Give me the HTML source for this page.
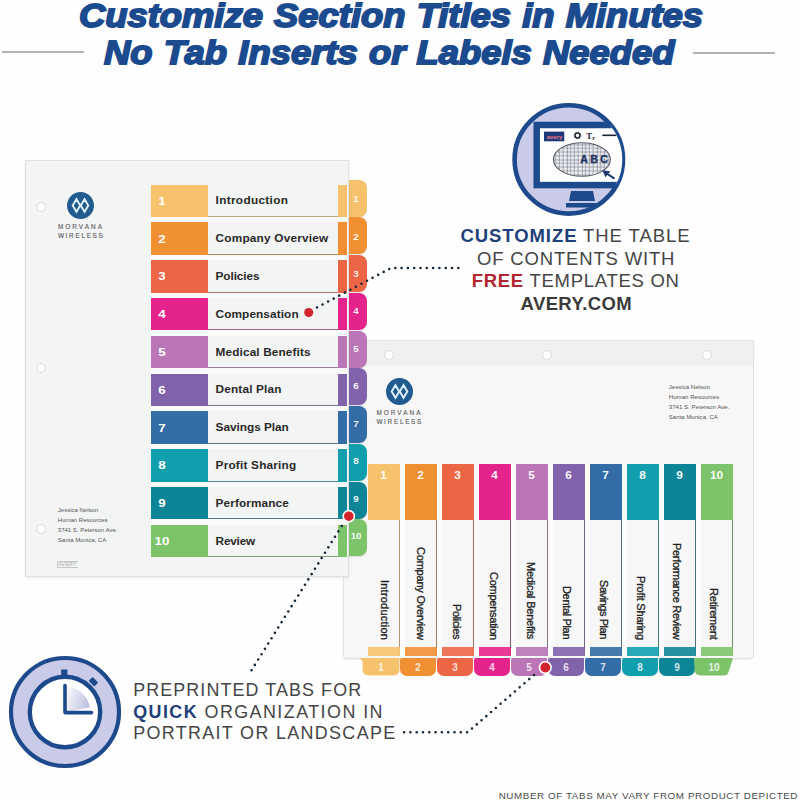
<!DOCTYPE html>
<html><head><meta charset="utf-8"><style>
*{margin:0;padding:0;box-sizing:border-box}
html,body{width:800px;height:800px;overflow:hidden;background:#fefefe}
body{position:relative;font-family:"Liberation Sans", sans-serif}
.a{position:absolute}
.t{position:absolute;white-space:nowrap;line-height:1}
</style></head><body>

<div class="a" style="left:2px;top:51px;width:82px;height:2px;background:#b3b3b3"></div>
<div class="a" style="left:693px;top:51.5px;width:82px;height:2px;background:#b3b3b3"></div>
<div class="t" id="t1" style="left:79px;top:-1px;font-size:33px;font-weight:bold;font-style:italic;color:#1c4a8e;-webkit-text-stroke:1.8px #1c4a8e;transform-origin:0 0;transform:scaleX(1.102);word-spacing:1px">Customize Section Titles in Minutes</div>
<div class="t" id="t2" style="left:104px;top:35.7px;font-size:33px;font-weight:bold;font-style:italic;color:#1c4a8e;-webkit-text-stroke:1.8px #1c4a8e;transform-origin:0 0;transform:scaleX(1.103);word-spacing:1px">No Tab Inserts or Labels Needed</div>
<div class="a" style="left:343px;top:339.5px;width:411px;height:319.5px;background:#f7f7f7;border:1px solid #e2e2e2;border-radius:0 0 5px 3px;box-shadow:0 1px 2px rgba(0,0,0,.06)"></div>
<div class="a" style="left:344px;top:340.5px;width:409px;height:24.5px;background:#f0f0f0"></div>
<div class="a" style="left:383.6px;top:349.7px;width:10px;height:10px;border-radius:50%;background:#fff;border:1px solid #d6d6d6"></div>
<div class="a" style="left:542px;top:349.7px;width:10px;height:10px;border-radius:50%;background:#fff;border:1px solid #d6d6d6"></div>
<div class="a" style="left:701.6px;top:349.7px;width:10px;height:10px;border-radius:50%;background:#fff;border:1px solid #d6d6d6"></div>
<svg class="a" style="left:385.5px;top:378.0px" width="27.0" height="27.0" viewBox="-10 -10 20 20"><circle r="10" fill="#215b8f"/><path d="M-5.8 0 L-3 -4.7 L-0.2 0 L-3 4.7 Z M0.2 0 L3 -4.7 L5.8 0 L3 4.7 Z" fill="none" stroke="#dff0fb" stroke-width="1.4" stroke-linejoin="miter" stroke-miterlimit="10"/></svg>
<div class="t" style="left:376.4px;top:410.05px;font-size:6.4px;letter-spacing:2.05px;color:#626262;-webkit-text-stroke:0.15px #626262">MORVANA</div>
<div class="t" style="left:376.4px;top:418.67px;font-size:6.4px;letter-spacing:1.7px;color:#626262;-webkit-text-stroke:0.15px #626262">WIRELESS</div>
<div class="t" style="left:668.8px;top:383.6px;font-size:6.1px;color:#555">Jessica Nelson</div>
<div class="t" style="left:668.8px;top:393.67px;font-size:6.1px;color:#555">Human Resources</div>
<div class="t" style="left:668.8px;top:403.74px;font-size:6.1px;color:#555">3741 S. Peterson Ave.</div>
<div class="t" style="left:668.8px;top:413.81px;font-size:6.1px;color:#555">Santa Monica, CA</div>
<div class="a" style="left:366.5px;top:464px;width:367px;height:192px;background:#f7f7f7"></div>
<div class="a" style="left:398.8px;top:464px;width:1.3px;height:190px;background:#ad9673"></div>
<div class="a" style="left:367.5px;top:464px;width:32px;height:56px;background:#f7c26c"></div>
<div class="t" style="left:367.5px;top:470px;width:32px;text-align:center;font-size:11.8px;font-weight:bold;color:#fff;opacity:.95">1</div>
<div class="a" style="left:367.5px;top:647px;width:32px;height:9px;background:#f7c26c;opacity:.9"></div>
<svg class="a" style="left:0;top:0" width="800" height="800"><path d="M359.5 658 L399.5 658 L399.5 669 Q399.5 675.5 393 675.5 L369 675.5 Q362.5 675.5 362.5 669 L362.5 663 Q362.5 659.5 359.5 658 Z" fill="#f7c26c"/></svg>
<div class="t" style="left:363.0px;top:662.6999999999999px;width:36px;text-align:center;font-size:10px;font-weight:bold;color:#fff;opacity:.8">1</div>
<div class="t" style="left:378.5px;top:579.8px;writing-mode:vertical-rl;font-size:11px;letter-spacing:0.221px;color:#222;-webkit-text-stroke:0.3px #222">Introduction</div>
<div class="a" style="left:400.0px;top:464px;width:4.5px;height:192px;background:#fcfcfc"></div>
<div class="a" style="left:435.8px;top:464px;width:1.3px;height:190px;background:#a37c57"></div>
<div class="a" style="left:404.5px;top:464px;width:32px;height:56px;background:#f18f33"></div>
<div class="t" style="left:404.5px;top:470px;width:32px;text-align:center;font-size:11.8px;font-weight:bold;color:#fff;opacity:.95">2</div>
<div class="a" style="left:404.5px;top:647px;width:32px;height:9px;background:#f18f33;opacity:.9"></div>
<div class="a" style="left:400.0px;top:658px;width:36px;height:17.5px;background:#f18f33;border-radius:2px 1px 7px 7px"></div>
<div class="t" style="left:400.0px;top:662.6999999999999px;width:36px;text-align:center;font-size:10px;font-weight:bold;color:#fff;opacity:.8">2</div>
<div class="t" style="left:414.9px;top:546.7px;writing-mode:vertical-rl;font-size:11px;letter-spacing:-0.209px;color:#222;-webkit-text-stroke:0.3px #222">Company Overview</div>
<div class="a" style="left:437.0px;top:464px;width:4.5px;height:192px;background:#fcfcfc"></div>
<div class="a" style="left:472.8px;top:464px;width:1.3px;height:190px;background:#9f6d5e"></div>
<div class="a" style="left:441.5px;top:464px;width:32px;height:56px;background:#ec6645"></div>
<div class="t" style="left:441.5px;top:470px;width:32px;text-align:center;font-size:11.8px;font-weight:bold;color:#fff;opacity:.95">3</div>
<div class="a" style="left:441.5px;top:647px;width:32px;height:9px;background:#ec6645;opacity:.9"></div>
<div class="a" style="left:437.0px;top:658px;width:36px;height:17.5px;background:#ec6645;border-radius:2px 1px 7px 7px"></div>
<div class="t" style="left:437.0px;top:662.6999999999999px;width:36px;text-align:center;font-size:10px;font-weight:bold;color:#fff;opacity:.8">3</div>
<div class="t" style="left:450.9px;top:603.7px;writing-mode:vertical-rl;font-size:11px;letter-spacing:-0.358px;color:#222;-webkit-text-stroke:0.3px #222">Policies</div>
<div class="a" style="left:474.0px;top:464px;width:4.5px;height:192px;background:#fcfcfc"></div>
<div class="a" style="left:509.8px;top:464px;width:1.3px;height:190px;background:#935578"></div>
<div class="a" style="left:478.5px;top:464px;width:32px;height:56px;background:#e5238c"></div>
<div class="t" style="left:478.5px;top:470px;width:32px;text-align:center;font-size:11.8px;font-weight:bold;color:#fff;opacity:.95">4</div>
<div class="a" style="left:478.5px;top:647px;width:32px;height:9px;background:#e5238c;opacity:.9"></div>
<div class="a" style="left:474.0px;top:658px;width:36px;height:17.5px;background:#e5238c;border-radius:2px 1px 7px 7px"></div>
<div class="t" style="left:474.0px;top:662.6999999999999px;width:36px;text-align:center;font-size:10px;font-weight:bold;color:#fff;opacity:.8">4</div>
<div class="t" style="left:488.1px;top:571.5px;writing-mode:vertical-rl;font-size:11px;letter-spacing:-0.247px;color:#222;-webkit-text-stroke:0.3px #222">Compensation</div>
<div class="a" style="left:511.0px;top:464px;width:4.5px;height:192px;background:#fcfcfc"></div>
<div class="a" style="left:546.8px;top:464px;width:1.3px;height:190px;background:#8c708a"></div>
<div class="a" style="left:515.5px;top:464px;width:32px;height:56px;background:#ba76b6"></div>
<div class="t" style="left:515.5px;top:470px;width:32px;text-align:center;font-size:11.8px;font-weight:bold;color:#fff;opacity:.95">5</div>
<div class="a" style="left:515.5px;top:647px;width:32px;height:9px;background:#ba76b6;opacity:.9"></div>
<div class="a" style="left:511.0px;top:658px;width:36px;height:17.5px;background:#ba76b6;border-radius:2px 1px 7px 7px"></div>
<div class="t" style="left:511.0px;top:662.6999999999999px;width:36px;text-align:center;font-size:10px;font-weight:bold;color:#fff;opacity:.8">5</div>
<div class="t" style="left:524.9px;top:561.75px;writing-mode:vertical-rl;font-size:11px;letter-spacing:-0.224px;color:#222;-webkit-text-stroke:0.3px #222">Medical Benefits</div>
<div class="a" style="left:548.0px;top:464px;width:4.5px;height:192px;background:#fcfcfc"></div>
<div class="a" style="left:583.8px;top:464px;width:1.3px;height:190px;background:#716784"></div>
<div class="a" style="left:552.5px;top:464px;width:32px;height:56px;background:#8163ab"></div>
<div class="t" style="left:552.5px;top:470px;width:32px;text-align:center;font-size:11.8px;font-weight:bold;color:#fff;opacity:.95">6</div>
<div class="a" style="left:552.5px;top:647px;width:32px;height:9px;background:#8163ab;opacity:.9"></div>
<div class="a" style="left:548.0px;top:658px;width:36px;height:17.5px;background:#8163ab;border-radius:2px 1px 7px 7px"></div>
<div class="t" style="left:548.0px;top:662.6999999999999px;width:36px;text-align:center;font-size:10px;font-weight:bold;color:#fff;opacity:.8">6</div>
<div class="t" style="left:560.7px;top:586.2px;writing-mode:vertical-rl;font-size:11px;letter-spacing:-0.335px;color:#222;-webkit-text-stroke:0.3px #222">Dental Plan</div>
<div class="a" style="left:585.0px;top:464px;width:4.5px;height:192px;background:#fcfcfc"></div>
<div class="a" style="left:620.8px;top:464px;width:1.3px;height:190px;background:#55697e"></div>
<div class="a" style="left:589.5px;top:464px;width:32px;height:56px;background:#336ca6"></div>
<div class="t" style="left:589.5px;top:470px;width:32px;text-align:center;font-size:11.8px;font-weight:bold;color:#fff;opacity:.95">7</div>
<div class="a" style="left:589.5px;top:647px;width:32px;height:9px;background:#336ca6;opacity:.9"></div>
<div class="a" style="left:585.0px;top:658px;width:36px;height:17.5px;background:#336ca6;border-radius:2px 1px 7px 7px"></div>
<div class="t" style="left:585.0px;top:662.6999999999999px;width:36px;text-align:center;font-size:10px;font-weight:bold;color:#fff;opacity:.8">7</div>
<div class="t" style="left:598.2px;top:580.3px;writing-mode:vertical-rl;font-size:11px;letter-spacing:-0.435px;color:#222;-webkit-text-stroke:0.3px #222">Savings Plan</div>
<div class="a" style="left:622.0px;top:464px;width:4.5px;height:192px;background:#fcfcfc"></div>
<div class="a" style="left:657.8px;top:464px;width:1.3px;height:190px;background:#497c81"></div>
<div class="a" style="left:626.5px;top:464px;width:32px;height:56px;background:#119fae"></div>
<div class="t" style="left:626.5px;top:470px;width:32px;text-align:center;font-size:11.8px;font-weight:bold;color:#fff;opacity:.95">8</div>
<div class="a" style="left:626.5px;top:647px;width:32px;height:9px;background:#119fae;opacity:.9"></div>
<div class="a" style="left:622.0px;top:658px;width:36px;height:17.5px;background:#119fae;border-radius:2px 1px 7px 7px"></div>
<div class="t" style="left:622.0px;top:662.6999999999999px;width:36px;text-align:center;font-size:10px;font-weight:bold;color:#fff;opacity:.8">8</div>
<div class="t" style="left:634.5px;top:575.6px;writing-mode:vertical-rl;font-size:11px;letter-spacing:-0.194px;color:#222;-webkit-text-stroke:0.3px #222">Profit Sharing</div>
<div class="a" style="left:659.0px;top:464px;width:4.5px;height:192px;background:#fcfcfc"></div>
<div class="a" style="left:694.8px;top:464px;width:1.3px;height:190px;background:#467278"></div>
<div class="a" style="left:663.5px;top:464px;width:32px;height:56px;background:#0e8596"></div>
<div class="t" style="left:663.5px;top:470px;width:32px;text-align:center;font-size:11.8px;font-weight:bold;color:#fff;opacity:.95">9</div>
<div class="a" style="left:663.5px;top:647px;width:32px;height:9px;background:#0e8596;opacity:.9"></div>
<div class="a" style="left:659.0px;top:658px;width:36px;height:17.5px;background:#0e8596;border-radius:2px 1px 7px 7px"></div>
<div class="t" style="left:659.0px;top:662.6999999999999px;width:36px;text-align:center;font-size:10px;font-weight:bold;color:#fff;opacity:.8">9</div>
<div class="t" style="left:670.9px;top:542.8px;writing-mode:vertical-rl;font-size:11px;letter-spacing:-0.315px;color:#222;-webkit-text-stroke:0.3px #222">Performance Review</div>
<div class="a" style="left:696.0px;top:464px;width:4.5px;height:192px;background:#fcfcfc"></div>
<div class="a" style="left:731.8px;top:464px;width:1.3px;height:190px;background:#718d6a"></div>
<div class="a" style="left:700.5px;top:464px;width:32px;height:56px;background:#7dc36a"></div>
<div class="t" style="left:700.5px;top:470px;width:32px;text-align:center;font-size:11.8px;font-weight:bold;color:#fff;opacity:.95">10</div>
<div class="a" style="left:700.5px;top:647px;width:32px;height:9px;background:#7dc36a;opacity:.9"></div>
<svg class="a" style="left:0;top:0" width="800" height="800"><path d="M694 658 L733 658 L728.6 672 Q727.6 675.5 724 675.5 L701 675.5 Q694.5 675.5 694.5 669 Z" fill="#7dc36a"/></svg>
<div class="t" style="left:696.0px;top:662.6999999999999px;width:36px;text-align:center;font-size:10px;font-weight:bold;color:#fff;opacity:.8">10</div>
<div class="t" style="left:707.5px;top:587.8px;writing-mode:vertical-rl;font-size:11px;letter-spacing:-0.216px;color:#222;-webkit-text-stroke:0.3px #222">Retirement</div>
<div class="a" style="left:25px;top:159.5px;width:323.5px;height:417.0px;background:#f3f4f4;border:1px solid #e1e1e1;box-shadow:0 1px 3px rgba(0,0,0,.08)"></div>
<div class="a" style="left:36px;top:202px;width:10px;height:10px;border-radius:50%;background:#fff;border:1px solid #d6d6d6"></div>
<div class="a" style="left:36px;top:362.5px;width:10px;height:10px;border-radius:50%;background:#fff;border:1px solid #d6d6d6"></div>
<div class="a" style="left:36px;top:524px;width:10px;height:10px;border-radius:50%;background:#fff;border:1px solid #d6d6d6"></div>
<svg class="a" style="left:67.0px;top:192.0px" width="27.0" height="27.0" viewBox="-10 -10 20 20"><circle r="10" fill="#215b8f"/><path d="M-5.8 0 L-3 -4.7 L-0.2 0 L-3 4.7 Z M0.2 0 L3 -4.7 L5.8 0 L3 4.7 Z" fill="none" stroke="#dff0fb" stroke-width="1.4" stroke-linejoin="miter" stroke-miterlimit="10"/></svg>
<div class="t" style="left:57.9px;top:223.9px;font-size:6.4px;letter-spacing:2.05px;color:#626262;-webkit-text-stroke:0.15px #626262">MORVANA</div>
<div class="t" style="left:57.9px;top:232.55px;font-size:6.4px;letter-spacing:1.7px;color:#626262;-webkit-text-stroke:0.15px #626262">WIRELESS</div>
<div class="t" style="left:57.8px;top:506.7px;font-size:6px;color:#555">Jessica Nelson</div>
<div class="t" style="left:57.8px;top:516.7px;font-size:6px;color:#555">Human Resources</div>
<div class="t" style="left:57.8px;top:526.7px;font-size:6px;color:#555">3741 S. Peterson Ave.</div>
<div class="t" style="left:57.8px;top:536.7px;font-size:6px;color:#555">Santa Monica, CA</div>
<div class="t" style="left:56.5px;top:561px;font-size:5px;color:#aaa;border:0.6px solid #c4c4c4;border-right:none;padding:0 1px;letter-spacing:.3px">AVERY</div>
<div class="a" style="left:348.8px;top:179.5px;width:17.8px;height:37.2px;background:#f7c26c;border-radius:0 8px 8px 0;box-shadow:0 1px 1px rgba(0,0,0,.10)"></div>
<div class="t" style="left:348.8px;top:194.1px;width:14.6px;text-align:center;font-size:9.8px;font-weight:bold;color:#fff;opacity:.9">1</div>
<div class="a" style="left:348.8px;top:217.25px;width:17.8px;height:37.2px;background:#f18f33;border-radius:0 8px 8px 0;box-shadow:0 1px 1px rgba(0,0,0,.10)"></div>
<div class="t" style="left:348.8px;top:231.54999999999998px;width:14.6px;text-align:center;font-size:9.8px;font-weight:bold;color:#fff;opacity:.9">2</div>
<div class="a" style="left:348.8px;top:255.0px;width:17.8px;height:37.2px;background:#ec6645;border-radius:0 8px 8px 0;box-shadow:0 1px 1px rgba(0,0,0,.10)"></div>
<div class="t" style="left:348.8px;top:269.0px;width:14.6px;text-align:center;font-size:9.8px;font-weight:bold;color:#fff;opacity:.9">3</div>
<div class="a" style="left:348.8px;top:292.75px;width:17.8px;height:37.2px;background:#e5238c;border-radius:0 8px 8px 0;box-shadow:0 1px 1px rgba(0,0,0,.10)"></div>
<div class="t" style="left:348.8px;top:306.45000000000005px;width:14.6px;text-align:center;font-size:9.8px;font-weight:bold;color:#fff;opacity:.9">4</div>
<div class="a" style="left:348.8px;top:330.5px;width:17.8px;height:37.2px;background:#ba76b6;border-radius:0 8px 8px 0;box-shadow:0 1px 1px rgba(0,0,0,.10)"></div>
<div class="t" style="left:348.8px;top:343.90000000000003px;width:14.6px;text-align:center;font-size:9.8px;font-weight:bold;color:#fff;opacity:.9">5</div>
<div class="a" style="left:348.8px;top:368.25px;width:17.8px;height:37.2px;background:#8163ab;border-radius:0 8px 8px 0;box-shadow:0 1px 1px rgba(0,0,0,.10)"></div>
<div class="t" style="left:348.8px;top:381.35px;width:14.6px;text-align:center;font-size:9.8px;font-weight:bold;color:#fff;opacity:.9">6</div>
<div class="a" style="left:348.8px;top:406.0px;width:17.8px;height:37.2px;background:#336ca6;border-radius:0 8px 8px 0;box-shadow:0 1px 1px rgba(0,0,0,.10)"></div>
<div class="t" style="left:348.8px;top:418.80000000000007px;width:14.6px;text-align:center;font-size:9.8px;font-weight:bold;color:#fff;opacity:.9">7</div>
<div class="a" style="left:348.8px;top:443.75px;width:17.8px;height:37.2px;background:#119fae;border-radius:0 8px 8px 0;box-shadow:0 1px 1px rgba(0,0,0,.10)"></div>
<div class="t" style="left:348.8px;top:456.25000000000006px;width:14.6px;text-align:center;font-size:9.8px;font-weight:bold;color:#fff;opacity:.9">8</div>
<div class="a" style="left:348.8px;top:481.5px;width:17.8px;height:37.2px;background:#0e8596;border-radius:0 8px 8px 0;box-shadow:0 1px 1px rgba(0,0,0,.10)"></div>
<div class="t" style="left:348.8px;top:493.70000000000005px;width:14.6px;text-align:center;font-size:9.8px;font-weight:bold;color:#fff;opacity:.9">9</div>
<div class="a" style="left:348.8px;top:519.25px;width:17.8px;height:37.2px;background:#7dc36a;border-radius:0 8px 8px 0;box-shadow:0 1px 1px rgba(0,0,0,.10)"></div>
<div class="t" style="left:348.8px;top:531.15px;width:14.6px;text-align:center;font-size:9.8px;font-weight:bold;color:#fff;opacity:.9">10</div>
<div class="a" style="left:151px;top:184.5px;width:196px;height:373px;background:#fafafa"></div>
<div class="a" style="left:151px;top:184.5px;width:57px;height:32.5px;background:#f7c26c"></div>
<div class="a" style="left:208px;top:184.5px;width:130.3px;height:32.5px;background:#f3f4f4;border-bottom:1.2px solid #bfa680"></div>
<div class="a" style="left:338.3px;top:184.5px;width:8.5px;height:32.5px;background:#f7c26c"></div>
<div class="t" style="left:147.3px;top:195.7px;width:30px;text-align:center;font-size:11.3px;font-weight:bold;color:#fff;transform:scaleX(1.18)">1</div>
<div class="t" style="left:215.6px;top:195.3px;font-size:11.8px;font-weight:bold;color:#292929;letter-spacing:0.319px">Introduction</div>
<div class="a" style="left:151px;top:222.3px;width:57px;height:32.5px;background:#f18f33"></div>
<div class="a" style="left:208px;top:222.3px;width:130.3px;height:32.5px;background:#f3f4f4;border-bottom:1.2px solid #b58a62"></div>
<div class="a" style="left:338.3px;top:222.3px;width:8.5px;height:32.5px;background:#f18f33"></div>
<div class="t" style="left:147.3px;top:233.5px;width:30px;text-align:center;font-size:11.3px;font-weight:bold;color:#fff;transform:scaleX(1.18)">2</div>
<div class="t" style="left:215.6px;top:233.10000000000002px;font-size:11.8px;font-weight:bold;color:#292929;letter-spacing:0.206px">Company Overview</div>
<div class="a" style="left:151px;top:260.1px;width:57px;height:32.5px;background:#ec6645"></div>
<div class="a" style="left:208px;top:260.1px;width:130.3px;height:32.5px;background:#f3f4f4;border-bottom:1.2px solid #b07969"></div>
<div class="a" style="left:338.3px;top:260.1px;width:8.5px;height:32.5px;background:#ec6645"></div>
<div class="t" style="left:147.3px;top:271.3px;width:30px;text-align:center;font-size:11.3px;font-weight:bold;color:#fff;transform:scaleX(1.18)">3</div>
<div class="t" style="left:215.6px;top:270.90000000000003px;font-size:11.8px;font-weight:bold;color:#292929;letter-spacing:-0.090px">Policies</div>
<div class="a" style="left:151px;top:297.9px;width:57px;height:32.5px;background:#e5238c"></div>
<div class="a" style="left:208px;top:297.9px;width:130.3px;height:32.5px;background:#f3f4f4;border-bottom:1.2px solid #a36086"></div>
<div class="a" style="left:338.3px;top:297.9px;width:8.5px;height:32.5px;background:#e5238c"></div>
<div class="t" style="left:147.3px;top:309.09999999999997px;width:30px;text-align:center;font-size:11.3px;font-weight:bold;color:#fff;transform:scaleX(1.18)">4</div>
<div class="t" style="left:215.6px;top:308.7px;font-size:11.8px;font-weight:bold;color:#292929;letter-spacing:0.098px">Compensation</div>
<div class="a" style="left:151px;top:335.7px;width:57px;height:32.5px;background:#ba76b6"></div>
<div class="a" style="left:208px;top:335.7px;width:130.3px;height:32.5px;background:#f3f4f4;border-bottom:1.2px solid #9b7c99"></div>
<div class="a" style="left:338.3px;top:335.7px;width:8.5px;height:32.5px;background:#ba76b6"></div>
<div class="t" style="left:147.3px;top:346.9px;width:30px;text-align:center;font-size:11.3px;font-weight:bold;color:#fff;transform:scaleX(1.18)">5</div>
<div class="t" style="left:215.6px;top:346.5px;font-size:11.8px;font-weight:bold;color:#292929;letter-spacing:0.131px">Medical Benefits</div>
<div class="a" style="left:151px;top:373.5px;width:57px;height:32.5px;background:#8163ab"></div>
<div class="a" style="left:208px;top:373.5px;width:130.3px;height:32.5px;background:#f3f4f4;border-bottom:1.2px solid #7e7393"></div>
<div class="a" style="left:338.3px;top:373.5px;width:8.5px;height:32.5px;background:#8163ab"></div>
<div class="t" style="left:147.3px;top:384.7px;width:30px;text-align:center;font-size:11.3px;font-weight:bold;color:#fff;transform:scaleX(1.18)">6</div>
<div class="t" style="left:215.6px;top:384.3px;font-size:11.8px;font-weight:bold;color:#292929;letter-spacing:0.156px">Dental Plan</div>
<div class="a" style="left:151px;top:411.29999999999995px;width:57px;height:32.5px;background:#336ca6"></div>
<div class="a" style="left:208px;top:411.29999999999995px;width:130.3px;height:32.5px;background:#f3f4f4;border-bottom:1.2px solid #60758d"></div>
<div class="a" style="left:338.3px;top:411.29999999999995px;width:8.5px;height:32.5px;background:#336ca6"></div>
<div class="t" style="left:147.3px;top:422.49999999999994px;width:30px;text-align:center;font-size:11.3px;font-weight:bold;color:#fff;transform:scaleX(1.18)">7</div>
<div class="t" style="left:215.6px;top:422.09999999999997px;font-size:11.8px;font-weight:bold;color:#292929;letter-spacing:-0.020px">Savings Plan</div>
<div class="a" style="left:151px;top:449.09999999999997px;width:57px;height:32.5px;background:#119fae"></div>
<div class="a" style="left:208px;top:449.09999999999997px;width:130.3px;height:32.5px;background:#f3f4f4;border-bottom:1.2px solid #528a90"></div>
<div class="a" style="left:338.3px;top:449.09999999999997px;width:8.5px;height:32.5px;background:#119fae"></div>
<div class="t" style="left:147.3px;top:460.29999999999995px;width:30px;text-align:center;font-size:11.3px;font-weight:bold;color:#fff;transform:scaleX(1.18)">8</div>
<div class="t" style="left:215.6px;top:459.9px;font-size:11.8px;font-weight:bold;color:#292929;letter-spacing:0.201px">Profit Sharing</div>
<div class="a" style="left:151px;top:486.9px;width:57px;height:32.5px;background:#0e8596"></div>
<div class="a" style="left:208px;top:486.9px;width:130.3px;height:32.5px;background:#f3f4f4;border-bottom:1.2px solid #4f7f86"></div>
<div class="a" style="left:338.3px;top:486.9px;width:8.5px;height:32.5px;background:#0e8596"></div>
<div class="t" style="left:147.3px;top:498.09999999999997px;width:30px;text-align:center;font-size:11.3px;font-weight:bold;color:#fff;transform:scaleX(1.18)">9</div>
<div class="t" style="left:215.6px;top:497.7px;font-size:11.8px;font-weight:bold;color:#292929;letter-spacing:0.104px">Performance</div>
<div class="a" style="left:151px;top:524.7px;width:57px;height:32.5px;background:#7dc36a"></div>
<div class="a" style="left:208px;top:524.7px;width:130.3px;height:32.5px;background:#f3f4f4;border-bottom:1.2px solid #7e9d76"></div>
<div class="a" style="left:338.3px;top:524.7px;width:8.5px;height:32.5px;background:#7dc36a"></div>
<div class="t" style="left:147.3px;top:535.9000000000001px;width:30px;text-align:center;font-size:11.3px;font-weight:bold;color:#fff;transform:scaleX(1.18)">10</div>
<div class="t" style="left:215.6px;top:535.5px;font-size:11.8px;font-weight:bold;color:#292929;letter-spacing:-0.216px">Review</div>
<svg class="a" style="left:0;top:0" width="800" height="800" viewBox="0 0 800 800">
<defs>
<clipPath id="mc"><circle cx="568.8" cy="159.4" r="53.5"/></clipPath>
<pattern id="grid" x="566.8" y="144.5" width="15" height="15" patternUnits="userSpaceOnUse"><rect width="15" height="15" fill="#f2f3f6"/><path d="M3.75 0V15M7.5 0V15M11.25 0V15M0 3.75H15M0 7.5H15M0 11.25H15" stroke="#8a8d98" stroke-width="0.8" fill="none"/><path d="M0 0H15M0 0V15" stroke="#5d6070" stroke-width="1.1" fill="none"/></pattern>
<linearGradient id="wedge" x1="0" y1="0" x2="1" y2="0.3"><stop offset="0" stop-color="#fff"/><stop offset="1" stop-color="#c3c5e3"/></linearGradient>
</defs>
<circle cx="568.8" cy="159.4" r="54.2" fill="#c9cbe8" stroke="#1d4a8c" stroke-width="4.6"/>
<g clip-path="url(#mc)">
<rect x="536.7" y="125" width="90" height="60.1" fill="#fff" stroke="#1d4a8c" stroke-width="6.5"/>
<path d="M571 191 L593 191 L595 201 L569 201 Z" fill="#1d4a8c"/>
<rect x="566" y="203" width="60" height="4.5" fill="#1d4a8c"/>
<rect x="544" y="131.6" width="20.3" height="9.7" fill="#1f3a7a"/>
<text x="554.5" y="138.6" font-size="6" font-weight="bold" fill="#ef7580" text-anchor="middle" font-family="Liberation Sans">avery</text>
<circle cx="577.5" cy="135.4" r="2.5" fill="none" stroke="#23283a" stroke-width="1.5"/><circle cx="577.5" cy="135.4" r="3.3" fill="none" stroke="#23283a" stroke-width="0.9" stroke-dasharray="1.1 1.5"/>
<text x="586.2" y="139.3" font-size="8.8" font-weight="bold" fill="#23283a" font-family="Liberation Serif">T</text>
<text x="592.2" y="140" font-size="6.2" font-weight="bold" fill="#23283a" font-family="Liberation Serif">r</text>
<rect x="602.3" y="134.5" width="14" height="1.6" fill="#1e2438"/>
<ellipse cx="581.9" cy="159.5" rx="28.5" ry="16.8" fill="url(#grid)" stroke="#55596a" stroke-width="1.1"/>
<text x="580.2" y="162.6" font-size="10.5" font-weight="bold" fill="#1d3263" letter-spacing="2.4" font-family="Liberation Sans" stroke="#1d3263" stroke-width="0.3">ABC</text>
<path d="M602.2 170 L610.6 171.4 L608.4 173.6 L615.2 177.8 L613.8 179.6 L607.2 175 L605.4 177.2 Z" fill="#1f3a72"/>
</g>
</svg>
<svg class="a" style="left:0;top:0" width="800" height="800" viewBox="0 0 800 800">
<circle cx="65" cy="712" r="54" fill="#c9cbe8" stroke="#1d4a8c" stroke-width="4.2"/>
<circle cx="65" cy="712" r="35.2" fill="#fff" stroke="#1d4a8c" stroke-width="4.4"/>
<path d="M65 712 L65 686.5 A25.5 25.5 0 0 1 90 707.5 Z" fill="url(#wedge)"/>
<rect x="61.2" y="669.5" width="6.2" height="5.5" fill="#1d4a8c"/>
<rect x="89.5" y="679" width="8" height="5.5" rx="0.8" fill="#1d4a8c" transform="rotate(45 93.5 681.7)"/>
<path d="M65 685.5 V712.6 H91.5" fill="none" stroke="#1d4a8c" stroke-width="3.6" stroke-linecap="round" stroke-linejoin="round"/>
</svg>
<svg class="a" style="left:0;top:0" width="800" height="800" viewBox="0 0 800 800">
<g fill="none" stroke="#15283a" stroke-width="2.6" stroke-linecap="round" stroke-dasharray="0 6.3">
<path d="M317 307.5 L391 268 L463 268"/>
<path d="M341.7 526 L249.5 673.5"/>
<path d="M534 675 L467.6 732.3 L402.4 732.3"/>
</g>
<circle cx="308.7" cy="312.5" r="4.5" fill="#d3232c"/>
<circle cx="348.8" cy="516.2" r="5.6" fill="#d3232c" stroke="#fff" stroke-width="1.6"/>
<circle cx="545.3" cy="667.5" r="5.8" fill="#d3232c" stroke="#fff" stroke-width="1.6"/>
</svg>
<div class="t" style="left:460.5px;top:227.3px;font-size:18.5px;color:#454545;letter-spacing:.92px"><b style="color:#1e4078">CUSTOMIZE</b> THE TABLE</div>
<div class="t" style="left:477px;top:249.8px;font-size:18.5px;color:#454545;letter-spacing:.83px">OF CONTENTS WITH</div>
<div class="t" style="left:471.7px;top:272.3px;font-size:18.5px;color:#454545;letter-spacing:.72px"><b style="color:#b3252f">FREE</b> TEMPLATES ON</div>
<div class="t" style="left:520.5px;top:294.8px;font-size:18.5px;color:#454545;letter-spacing:.4px"><b style="color:#3a3a3a">AVERY.COM</b></div>
<div class="t" style="left:133.2px;top:681.85px;font-size:17.9px;color:#454545;letter-spacing:1.1px">PREPRINTED TABS FOR</div>
<div class="t" style="left:133.2px;top:703.55px;font-size:17.9px;color:#454545;letter-spacing:1.45px"><b style="color:#1e4078">QUICK</b> ORGANIZATION IN</div>
<div class="t" style="left:133.2px;top:725.35px;font-size:17.9px;color:#454545;letter-spacing:1.35px">PORTRAIT OR LANDSCAPE</div>
<div class="t" style="left:498.7px;top:790.8px;font-size:9.8px;color:#454545;color:#4a4a4a;letter-spacing:.6px">NUMBER OF TABS MAY VARY FROM PRODUCT DEPICTED</div>
</body></html>
